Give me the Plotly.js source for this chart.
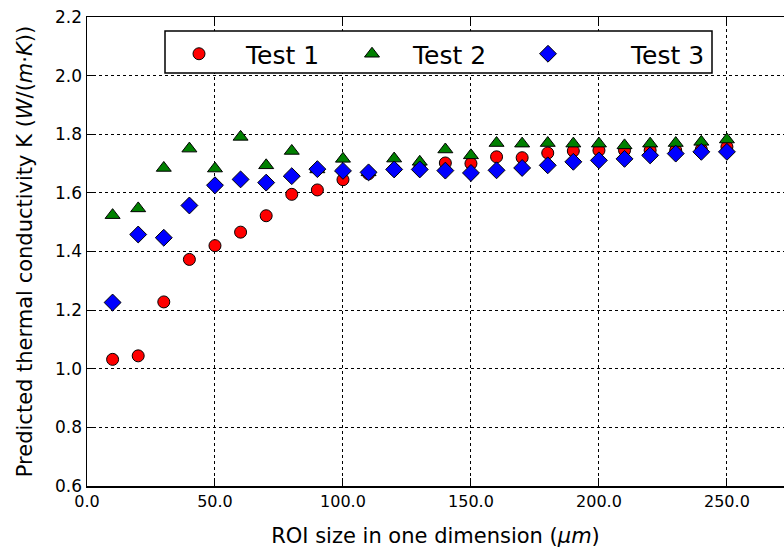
<!DOCTYPE html>
<html>
<head>
<meta charset="utf-8">
<script src="https://cdn.plot.ly/plotly-3.0.1.min.js"></script>
<style>html,body{margin:0;padding:0;background:#fff;}#chart{width:784px;height:554px;}</style>
</head>
<body>
<div id="chart"></div>
<script>
const roiSize = [10,20,30,40,50,60,70,80,90,100,110,120,130,140,150,160,170,180,190,200,210,220,230,240,250];
const test1 = [1.032,1.044,1.228,1.373,1.420,1.466,1.522,1.595,1.610,1.645,1.665,1.680,1.685,1.702,1.700,1.723,1.720,1.736,1.743,1.745,1.745,1.745,1.745,1.748,1.757];
const test2 = [1.524,1.547,1.685,1.751,1.683,1.791,1.694,1.743,1.680,1.716,1.670,1.717,1.706,1.748,1.728,1.770,1.768,1.770,1.768,1.768,1.762,1.768,1.770,1.774,1.782];
const test3 = [1.226,1.458,1.447,1.557,1.626,1.646,1.635,1.657,1.681,1.675,1.670,1.680,1.680,1.676,1.668,1.677,1.685,1.694,1.706,1.711,1.716,1.728,1.734,1.740,1.740];
const seriesNames = ['Test 1','Test 2','Test 3'];

const font = 'DejaVu Sans, sans-serif';
const mk = (sym, color, size) => ({symbol: sym, color: color, size: size, line: {color: '#000', width: 1}});

const traces = [
  {x: roiSize, y: test1, name: seriesNames[0], mode: 'markers', type: 'scatter', legend: 'legend', marker: mk('circle', '#ff0000', 12)},
  {x: roiSize, y: test2, name: seriesNames[1], mode: 'markers', type: 'scatter', legend: 'legend2', marker: mk('triangle-up', '#008000', 13)},
  {x: roiSize, y: test3, name: seriesNames[2], mode: 'markers', type: 'scatter', legend: 'legend3', marker: mk('diamond', '#0000ff', 13)}
];

// plot area in pixels: x 87..784, y 17..486
const px2x = p => (p - 87) / 697;
const px2y = p => 1 - (p - 17) / 469;

const legendBase = (xPx, itemW) => ({
  orientation: 'h', x: px2x(xPx), y: px2y(31), xanchor: 'left', yanchor: 'top',
  bgcolor: 'rgba(0,0,0,0)', borderwidth: 0,
  font: {family: font, size: 25, color: '#000'},
  itemwidth: itemW
});

const layout = {
  width: 784, height: 554,
  margin: {l: 87, r: 0, t: 17, b: 68},
  paper_bgcolor: '#fff', plot_bgcolor: '#fff',
  font: {family: font, color: '#000', size: 17},
  showlegend: true,
  legend: legendBase(152, 84),
  legend2: legendBase(331, 72),
  legend3: legendBase(465, 156),
  shapes: [{
    type: 'rect', xref: 'paper', yref: 'paper', layer: 'above',
    x0: px2x(165), x1: px2x(712), y0: px2y(73), y1: px2y(31),
    line: {color: '#000', width: 1.5}, fillcolor: '#fff'
  }],
  xaxis: {
    range: [0, 272.3], tickvals: [0,50,100,150,200,250], tickformat: '.1f',
    showgrid: true, gridcolor: '#000', griddash: 'dot', gridwidth: 1,
    showline: true, linecolor: '#000', linewidth: 1.5, mirror: 'ticks',
    ticks: 'inside', ticklen: 8, tickcolor: '#000', zeroline: false,
    tickfont: {family: font, size: 16},
    title: {text: 'ROI size in one dimension (<i>μm</i>)', font: {family: font, size: 21}, standoff: 18}
  },
  yaxis: {
    range: [0.6, 2.2], tickvals: [0.6,0.8,1.0,1.2,1.4,1.6,1.8,2.0,2.2], tickformat: '.1f',
    showgrid: true, gridcolor: '#000', griddash: 'dot', gridwidth: 1,
    showline: true, linecolor: '#000', linewidth: 1.5, mirror: false,
    ticks: 'inside', ticklen: 8, tickcolor: '#000', zeroline: false,
    tickfont: {family: font, size: 17},
    title: {text: 'Predicted thermal conductivity K (<i>W</i>/(<i>m</i>·<i>K</i>))', font: {family: font, size: 21}, standoff: 16}
  }
};

Plotly.newPlot('chart', traces, layout, {displayModeBar: false, staticPlot: true});
</script>
</body>
</html>
